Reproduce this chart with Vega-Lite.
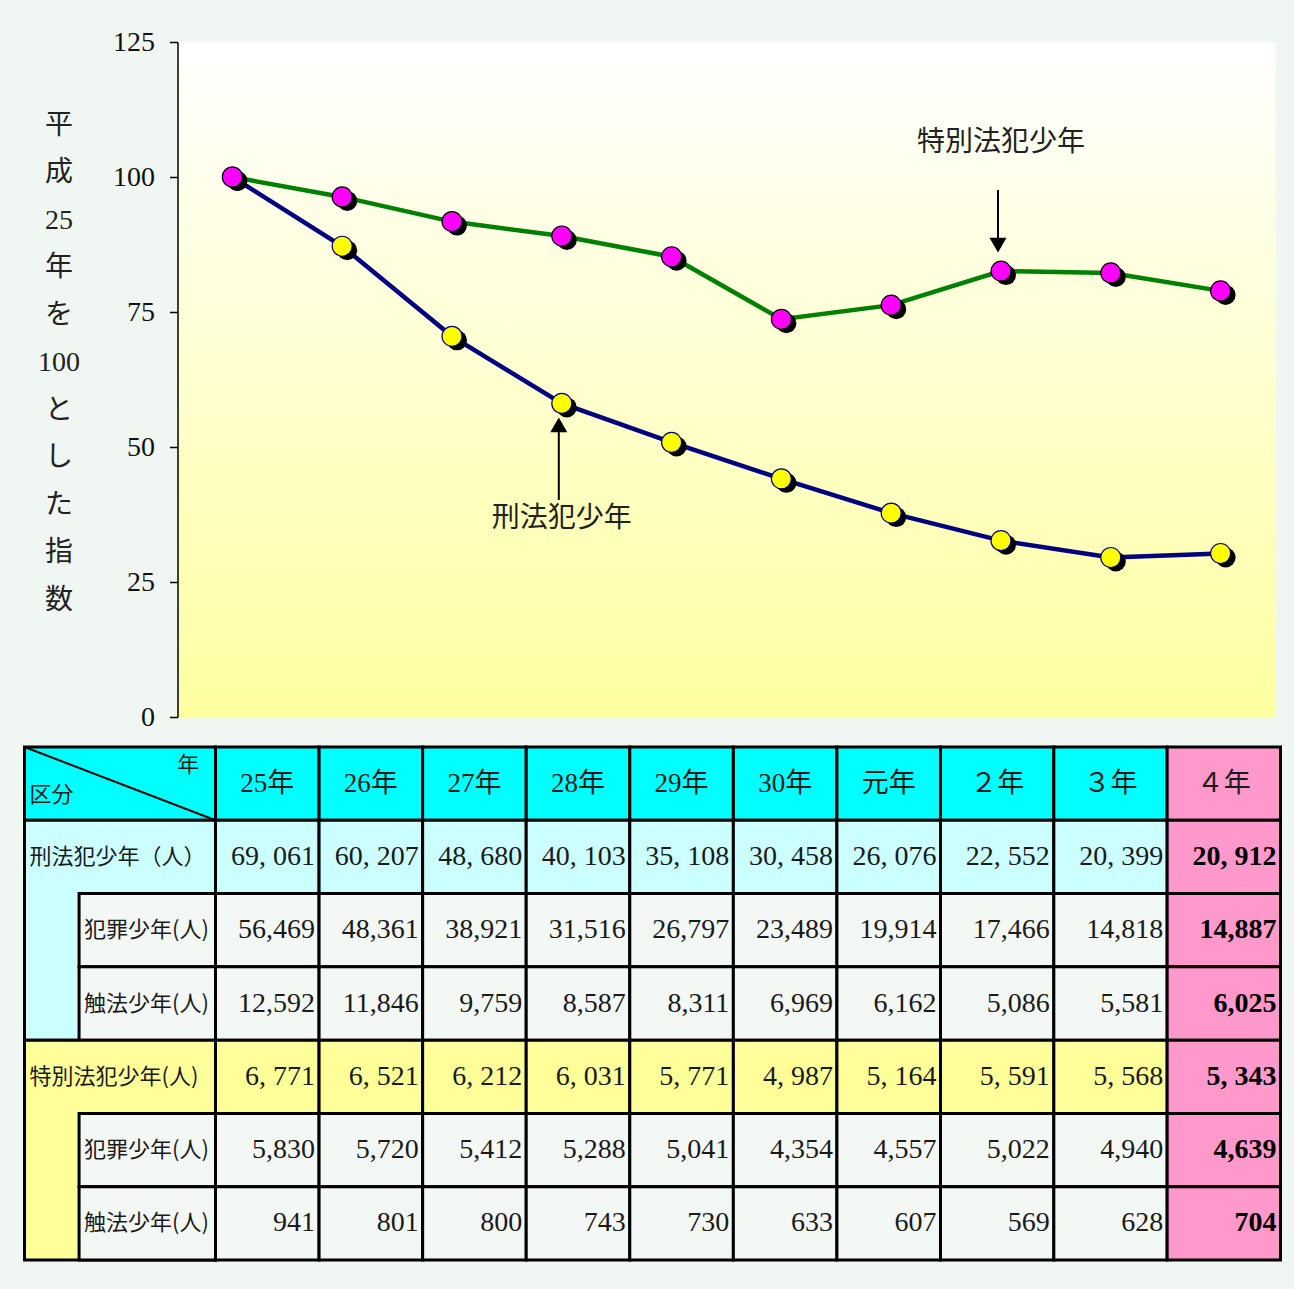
{
  "$schema": "https://vega.github.io/schema/vega-lite/v6.json",
  "background": "#f0f7f2",
  "padding": {"left": 22.5, "top": 28, "right": 12, "bottom": 30},
  "config": {"view": {"stroke": null}, "font": "Noto Sans CJK JP"},
  "resolve": {"scale": {"color": "independent", "fill": "independent", "stroke": "independent", "shape": "independent"}},
  "spacing": 14,
  "datasets": {
    "idx": [
      {"year": "25年", "series": "刑法犯少年", "index": 100},
      {"year": "26年", "series": "刑法犯少年", "index": 87.18},
      {"year": "27年", "series": "刑法犯少年", "index": 70.49},
      {"year": "28年", "series": "刑法犯少年", "index": 58.07},
      {"year": "29年", "series": "刑法犯少年", "index": 50.84},
      {"year": "30年", "series": "刑法犯少年", "index": 44.10},
      {"year": "元年", "series": "刑法犯少年", "index": 37.76},
      {"year": "２年", "series": "刑法犯少年", "index": 32.66},
      {"year": "３年", "series": "刑法犯少年", "index": 29.54},
      {"year": "４年", "series": "刑法犯少年", "index": 30.28},
      {"year": "25年", "series": "特別法犯少年", "index": 100},
      {"year": "26年", "series": "特別法犯少年", "index": 96.31},
      {"year": "27年", "series": "特別法犯少年", "index": 91.74},
      {"year": "28年", "series": "特別法犯少年", "index": 89.07},
      {"year": "29年", "series": "特別法犯少年", "index": 85.23},
      {"year": "30年", "series": "特別法犯少年", "index": 73.65},
      {"year": "元年", "series": "特別法犯少年", "index": 76.27},
      {"year": "２年", "series": "特別法犯少年", "index": 82.57},
      {"year": "３年", "series": "特別法犯少年", "index": 82.23},
      {"year": "４年", "series": "特別法犯少年", "index": 78.91}
    ],
    "arrows": [
      {"year": "２年", "from": 97.6, "to": 87.4, "dir": "down"},
      {"year": "28年", "from": 40.2, "to": 54.1, "dir": "up"}
    ],
    "notes": [
      {"year": "２年", "y": 106.3, "label": "特別法犯少年"},
      {"year": "28年", "y": 36.7, "label": "刑法犯少年"}
    ],
    "lbox": [
      {"x1": "g1", "x2": "s5", "y1": "h", "y2": "h", "kind": "head"},
      {"x1": "g1", "x2": "s5", "y1": "r1", "y2": "r3", "kind": "keiho"},
      {"x1": "s1", "x2": "s5", "y1": "r2", "y2": "r2", "kind": "plain"},
      {"x1": "s1", "x2": "s5", "y1": "r3", "y2": "r3", "kind": "plain"},
      {"x1": "g1", "x2": "s5", "y1": "r4", "y2": "r6", "kind": "toku"},
      {"x1": "s1", "x2": "s5", "y1": "r5", "y2": "r5", "kind": "plain"},
      {"x1": "s1", "x2": "s5", "y1": "r6", "y2": "r6", "kind": "plain"}
    ],
    "llab": [
      {"col": "g1", "row": "r1", "label": "刑法犯少年（人）"},
      {"col": "s1", "row": "r2", "label": "犯罪少年(人)"},
      {"col": "s1", "row": "r3", "label": "触法少年(人)"},
      {"col": "g1", "row": "r4", "label": "特別法犯少年(人)"},
      {"col": "s1", "row": "r5", "label": "犯罪少年(人)"},
      {"col": "s1", "row": "r6", "label": "触法少年(人)"}
    ],
    "cells": [
      {"row": "h", "year": "25年", "text": "25年", "kind": "head"},
      {"row": "h", "year": "26年", "text": "26年", "kind": "head"},
      {"row": "h", "year": "27年", "text": "27年", "kind": "head"},
      {"row": "h", "year": "28年", "text": "28年", "kind": "head"},
      {"row": "h", "year": "29年", "text": "29年", "kind": "head"},
      {"row": "h", "year": "30年", "text": "30年", "kind": "head"},
      {"row": "h", "year": "元年", "text": "元年", "kind": "head"},
      {"row": "h", "year": "２年", "text": "２年", "kind": "head"},
      {"row": "h", "year": "３年", "text": "３年", "kind": "head"},
      {"row": "h", "year": "４年", "text": "４年", "kind": "four"},
      {"row": "r1", "year": "25年", "text": "69, 061", "kind": "keiho"},
      {"row": "r1", "year": "26年", "text": "60, 207", "kind": "keiho"},
      {"row": "r1", "year": "27年", "text": "48, 680", "kind": "keiho"},
      {"row": "r1", "year": "28年", "text": "40, 103", "kind": "keiho"},
      {"row": "r1", "year": "29年", "text": "35, 108", "kind": "keiho"},
      {"row": "r1", "year": "30年", "text": "30, 458", "kind": "keiho"},
      {"row": "r1", "year": "元年", "text": "26, 076", "kind": "keiho"},
      {"row": "r1", "year": "２年", "text": "22, 552", "kind": "keiho"},
      {"row": "r1", "year": "３年", "text": "20, 399", "kind": "keiho"},
      {"row": "r1", "year": "４年", "text": "20, 912", "kind": "four"},
      {"row": "r2", "year": "25年", "text": "56,469", "kind": "plain"},
      {"row": "r2", "year": "26年", "text": "48,361", "kind": "plain"},
      {"row": "r2", "year": "27年", "text": "38,921", "kind": "plain"},
      {"row": "r2", "year": "28年", "text": "31,516", "kind": "plain"},
      {"row": "r2", "year": "29年", "text": "26,797", "kind": "plain"},
      {"row": "r2", "year": "30年", "text": "23,489", "kind": "plain"},
      {"row": "r2", "year": "元年", "text": "19,914", "kind": "plain"},
      {"row": "r2", "year": "２年", "text": "17,466", "kind": "plain"},
      {"row": "r2", "year": "３年", "text": "14,818", "kind": "plain"},
      {"row": "r2", "year": "４年", "text": "14,887", "kind": "four"},
      {"row": "r3", "year": "25年", "text": "12,592", "kind": "plain"},
      {"row": "r3", "year": "26年", "text": "11,846", "kind": "plain"},
      {"row": "r3", "year": "27年", "text": "9,759", "kind": "plain"},
      {"row": "r3", "year": "28年", "text": "8,587", "kind": "plain"},
      {"row": "r3", "year": "29年", "text": "8,311", "kind": "plain"},
      {"row": "r3", "year": "30年", "text": "6,969", "kind": "plain"},
      {"row": "r3", "year": "元年", "text": "6,162", "kind": "plain"},
      {"row": "r3", "year": "２年", "text": "5,086", "kind": "plain"},
      {"row": "r3", "year": "３年", "text": "5,581", "kind": "plain"},
      {"row": "r3", "year": "４年", "text": "6,025", "kind": "four"},
      {"row": "r4", "year": "25年", "text": "6, 771", "kind": "toku"},
      {"row": "r4", "year": "26年", "text": "6, 521", "kind": "toku"},
      {"row": "r4", "year": "27年", "text": "6, 212", "kind": "toku"},
      {"row": "r4", "year": "28年", "text": "6, 031", "kind": "toku"},
      {"row": "r4", "year": "29年", "text": "5, 771", "kind": "toku"},
      {"row": "r4", "year": "30年", "text": "4, 987", "kind": "toku"},
      {"row": "r4", "year": "元年", "text": "5, 164", "kind": "toku"},
      {"row": "r4", "year": "２年", "text": "5, 591", "kind": "toku"},
      {"row": "r4", "year": "３年", "text": "5, 568", "kind": "toku"},
      {"row": "r4", "year": "４年", "text": "5, 343", "kind": "four"},
      {"row": "r5", "year": "25年", "text": "5,830", "kind": "plain"},
      {"row": "r5", "year": "26年", "text": "5,720", "kind": "plain"},
      {"row": "r5", "year": "27年", "text": "5,412", "kind": "plain"},
      {"row": "r5", "year": "28年", "text": "5,288", "kind": "plain"},
      {"row": "r5", "year": "29年", "text": "5,041", "kind": "plain"},
      {"row": "r5", "year": "30年", "text": "4,354", "kind": "plain"},
      {"row": "r5", "year": "元年", "text": "4,557", "kind": "plain"},
      {"row": "r5", "year": "２年", "text": "5,022", "kind": "plain"},
      {"row": "r5", "year": "３年", "text": "4,940", "kind": "plain"},
      {"row": "r5", "year": "４年", "text": "4,639", "kind": "four"},
      {"row": "r6", "year": "25年", "text": "941", "kind": "plain"},
      {"row": "r6", "year": "26年", "text": "801", "kind": "plain"},
      {"row": "r6", "year": "27年", "text": "800", "kind": "plain"},
      {"row": "r6", "year": "28年", "text": "743", "kind": "plain"},
      {"row": "r6", "year": "29年", "text": "730", "kind": "plain"},
      {"row": "r6", "year": "30年", "text": "633", "kind": "plain"},
      {"row": "r6", "year": "元年", "text": "607", "kind": "plain"},
      {"row": "r6", "year": "２年", "text": "569", "kind": "plain"},
      {"row": "r6", "year": "３年", "text": "628", "kind": "plain"},
      {"row": "r6", "year": "４年", "text": "704", "kind": "four"}
    ]
  },
  "vconcat": [
    {
      "width": 1098,
      "height": 675,
      "view": {
        "stroke": null,
        "fill": {"gradient": "linear", "x1": 0, "y1": 0, "x2": 0, "y2": 1,
          "stops": [{"offset": 0, "color": "#ffffff"}, {"offset": 1, "color": "#ffffa0"}]}
      },
      "layer": [
        {
          "data": {"name": "idx"},
          "mark": {"type": "line", "strokeWidth": 4.5},
          "encoding": {
            "x": {"field": "year", "type": "ordinal",
              "scale": {"type": "point", "padding": 0.5, "domain": ["25年","26年","27年","28年","29年","30年","元年","２年","３年","４年"]},
              "axis": null},
            "y": {"field": "index", "type": "quantitative",
              "scale": {"domain": [0, 125], "nice": false, "zero": true},
              "axis": {
                "values": [0, 25, 50, 75, 100, 125],
                "title": ["平", "成", "25", "年", "を", "100", "と", "し", "た", "指", "数"],
                "grid": false,
                "labelFont": "Liberation Serif", "labelFontSize": 28, "labelColor": "#111",
                "labelPadding": 15,
                "tickSize": 8, "tickColor": "#000", "tickWidth": 1.5,
                "domainColor": "#000", "domainWidth": 1.5,
                "titleAngle": 0, "titleAlign": "center", "titleBaseline": "middle",
                "titleX": -119, "titleY": 83,
                "titleFont": "Liberation Serif, Noto Sans CJK JP", "titleFontSize": 28,
                "titleFontWeight": "normal", "titleColor": "#222", "titleLineHeight": 47.5
              }},
            "color": {"field": "series", "type": "nominal",
              "scale": {"domain": ["刑法犯少年", "特別法犯少年"], "range": ["#000080", "#008000"]},
              "legend": null}
          }
        },
        {
          "data": {"name": "idx"},
          "mark": {"type": "point", "filled": true, "size": 400, "color": "#000000", "opacity": 1, "xOffset": 5, "yOffset": 4},
          "encoding": {
            "x": {"field": "year", "type": "ordinal"},
            "y": {"field": "index", "type": "quantitative"}
          }
        },
        {
          "data": {"name": "idx"},
          "mark": {"type": "point", "filled": true, "size": 400, "opacity": 1, "strokeWidth": 1.2},
          "encoding": {
            "x": {"field": "year", "type": "ordinal"},
            "y": {"field": "index", "type": "quantitative"},
            "fill": {"field": "series", "type": "nominal",
              "scale": {"domain": ["刑法犯少年", "特別法犯少年"], "range": ["#ffff00", "#ff00ff"]}, "legend": null},
            "stroke": {"field": "series", "type": "nominal",
              "scale": {"domain": ["刑法犯少年", "特別法犯少年"], "range": ["#000080", "#000000"]}, "legend": null}
          }
        },
        {
          "data": {"name": "arrows"},
          "mark": {"type": "rule", "color": "#000", "strokeWidth": 2, "xOffset": -3},
          "encoding": {
            "x": {"field": "year", "type": "ordinal"},
            "y": {"field": "from", "type": "quantitative"},
            "y2": {"field": "to"}
          }
        },
        {
          "data": {"name": "arrows"},
          "mark": {"type": "point", "filled": true, "size": 290, "color": "#000", "opacity": 1, "xOffset": -3},
          "encoding": {
            "x": {"field": "year", "type": "ordinal"},
            "y": {"field": "to", "type": "quantitative"},
            "shape": {"field": "dir", "type": "nominal",
              "scale": {"domain": ["down", "up"], "range": ["triangle-down", "triangle-up"]}, "legend": null}
          }
        },
        {
          "data": {"name": "notes"},
          "mark": {"type": "text", "font": "Noto Sans CJK JP", "fontSize": 28, "color": "#222"},
          "encoding": {
            "x": {"field": "year", "type": "ordinal"},
            "y": {"field": "y", "type": "quantitative"},
            "text": {"field": "label"}
          }
        }
      ]
    },
    {
      "spacing": 0,
      "bounds": "flush",
      "hconcat": [
        {
          "width": 38,
          "height": 513,
          "view": {"stroke": null},
          "layer": [
            {
              "data": {"name": "lbox"},
              "mark": {"type": "rect", "stroke": "#000", "strokeWidth": 3},
              "encoding": {
                "x": {"field": "x1", "type": "nominal", "bandPosition": 0,
                  "scale": {"type": "band", "domain": ["g1","g2","s1","s2","s3","s4","s5"], "range": [-153, 38], "paddingInner": 0, "paddingOuter": 0},
                  "axis": null},
                "x2": {"field": "x2", "bandPosition": 1},
                "y": {"field": "y1", "type": "nominal", "bandPosition": 0,
                  "scale": {"type": "band", "domain": ["h","r1","r2","r3","r4","r5","r6"], "paddingInner": 0, "paddingOuter": 0},
                  "axis": null},
                "y2": {"field": "y2", "bandPosition": 1},
                "color": {"field": "kind", "type": "nominal",
                  "scale": {"domain": ["head","four","keiho","toku","plain"], "range": ["#00ffff","#ff99cc","#ccffff","#ffff99","#f3f8f4"]},
                  "legend": null}
              }
            },
            {
              "data": {"values": [{"x1": "g1", "x2": "s5", "y1": "h", "y2": "h"}]},
              "mark": {"type": "rule", "color": "#000", "strokeWidth": 2},
              "encoding": {
                "x": {"field": "x1", "type": "nominal", "bandPosition": 0},
                "x2": {"field": "x2", "bandPosition": 1},
                "y": {"field": "y1", "type": "nominal", "bandPosition": 0},
                "y2": {"field": "y2", "bandPosition": 1}
              }
            },
            {
              "data": {"values": [{"col": "g1", "row": "h", "label": "区分"}]},
              "mark": {"type": "text", "align": "left", "dx": 5, "font": "Noto Sans CJK JP", "fontSize": 22, "color": "#1a1a1a"},
              "encoding": {
                "x": {"field": "col", "type": "nominal", "bandPosition": 0},
                "y": {"field": "row", "type": "nominal", "bandPosition": 0.66},
                "text": {"field": "label"}
              }
            },
            {
              "data": {"values": [{"col": "s5", "row": "h", "label": "年"}]},
              "mark": {"type": "text", "align": "center", "font": "Noto Sans CJK JP", "fontSize": 22, "color": "#1a1a1a"},
              "encoding": {
                "x": {"field": "col", "type": "nominal", "bandPosition": 0},
                "y": {"field": "row", "type": "nominal", "bandPosition": 0.25},
                "text": {"field": "label"}
              }
            },
            {
              "data": {"name": "llab"},
              "mark": {"type": "text", "align": "left", "dx": 5, "font": "Noto Sans CJK JP", "fontSize": 22, "color": "#1a1a1a"},
              "encoding": {
                "x": {"field": "col", "type": "nominal", "bandPosition": 0},
                "y": {"field": "row", "type": "nominal"},
                "text": {"field": "label"}
              }
            }
          ]
        },
        {
          "width": 725,
          "height": 513,
          "view": {"stroke": null},
          "data": {"name": "cells"},
          "transform": [{"filter": {"field": "year", "oneOf": ["25年","26年","27年","28年","29年","30年","元年"]}}],
          "layer": [
            {
              "mark": {"type": "rect", "stroke": "#000", "strokeWidth": 3},
              "encoding": {
                "x": {"field": "year", "type": "nominal",
                  "scale": {"type": "band", "domain": ["25年","26年","27年","28年","29年","30年","元年"], "paddingInner": 0, "paddingOuter": 0},
                  "axis": null},
                "y": {"field": "row", "type": "nominal",
                  "scale": {"type": "band", "domain": ["h","r1","r2","r3","r4","r5","r6"], "paddingInner": 0, "paddingOuter": 0},
                  "axis": null},
                "color": {"field": "kind", "type": "nominal",
                  "scale": {"domain": ["head","four","keiho","toku","plain"], "range": ["#00ffff","#ff99cc","#ccffff","#ffff99","#f3f8f4"]},
                  "legend": null}
              }
            },
            {
              "transform": [{"filter": "datum.row === 'h'"}],
              "mark": {"type": "text", "font": "Liberation Serif, Noto Sans CJK JP", "fontSize": 27, "color": "#1a1a1a"},
              "encoding": {
                "x": {"field": "year", "type": "nominal"},
                "y": {"field": "row", "type": "nominal"},
                "text": {"field": "text"}
              }
            },
            {
              "transform": [{"filter": "datum.row !== 'h'"}],
              "mark": {"type": "text", "align": "right", "dx": -4, "font": "Liberation Serif", "fontSize": 28, "color": "#1a1a1a"},
              "encoding": {
                "x": {"field": "year", "type": "nominal", "bandPosition": 1},
                "y": {"field": "row", "type": "nominal"},
                "text": {"field": "text"}
              }
            }
          ]
        },
        {
          "width": 340,
          "height": 513,
          "view": {"stroke": null},
          "data": {"name": "cells"},
          "transform": [{"filter": {"field": "year", "oneOf": ["２年","３年","４年"]}}],
          "layer": [
            {
              "mark": {"type": "rect", "stroke": "#000", "strokeWidth": 3},
              "encoding": {
                "x": {"field": "year", "type": "nominal",
                  "scale": {"type": "band", "domain": ["２年","３年","４年"], "paddingInner": 0, "paddingOuter": 0},
                  "axis": null},
                "y": {"field": "row", "type": "nominal",
                  "scale": {"type": "band", "domain": ["h","r1","r2","r3","r4","r5","r6"], "paddingInner": 0, "paddingOuter": 0},
                  "axis": null},
                "color": {"field": "kind", "type": "nominal",
                  "scale": {"domain": ["head","four","keiho","toku","plain"], "range": ["#00ffff","#ff99cc","#ccffff","#ffff99","#f3f8f4"]},
                  "legend": null}
              }
            },
            {
              "transform": [{"filter": "datum.row === 'h'"}],
              "mark": {"type": "text", "font": "Liberation Serif, Noto Sans CJK JP", "fontSize": 27, "color": "#1a1a1a"},
              "encoding": {
                "x": {"field": "year", "type": "nominal"},
                "y": {"field": "row", "type": "nominal"},
                "text": {"field": "text"}
              }
            },
            {
              "transform": [{"filter": "datum.row !== 'h' && datum.year !== '４年'"}],
              "mark": {"type": "text", "align": "right", "dx": -4, "font": "Liberation Serif", "fontSize": 28, "color": "#1a1a1a"},
              "encoding": {
                "x": {"field": "year", "type": "nominal", "bandPosition": 1},
                "y": {"field": "row", "type": "nominal"},
                "text": {"field": "text"}
              }
            },
            {
              "transform": [{"filter": "datum.row !== 'h' && datum.year === '４年'"}],
              "mark": {"type": "text", "align": "right", "dx": -4, "font": "Liberation Serif", "fontSize": 28, "fontWeight": "bold", "color": "#000"},
              "encoding": {
                "x": {"field": "year", "type": "nominal", "bandPosition": 1},
                "y": {"field": "row", "type": "nominal"},
                "text": {"field": "text"}
              }
            }
          ]
        }
      ]
    }
  ]
}
